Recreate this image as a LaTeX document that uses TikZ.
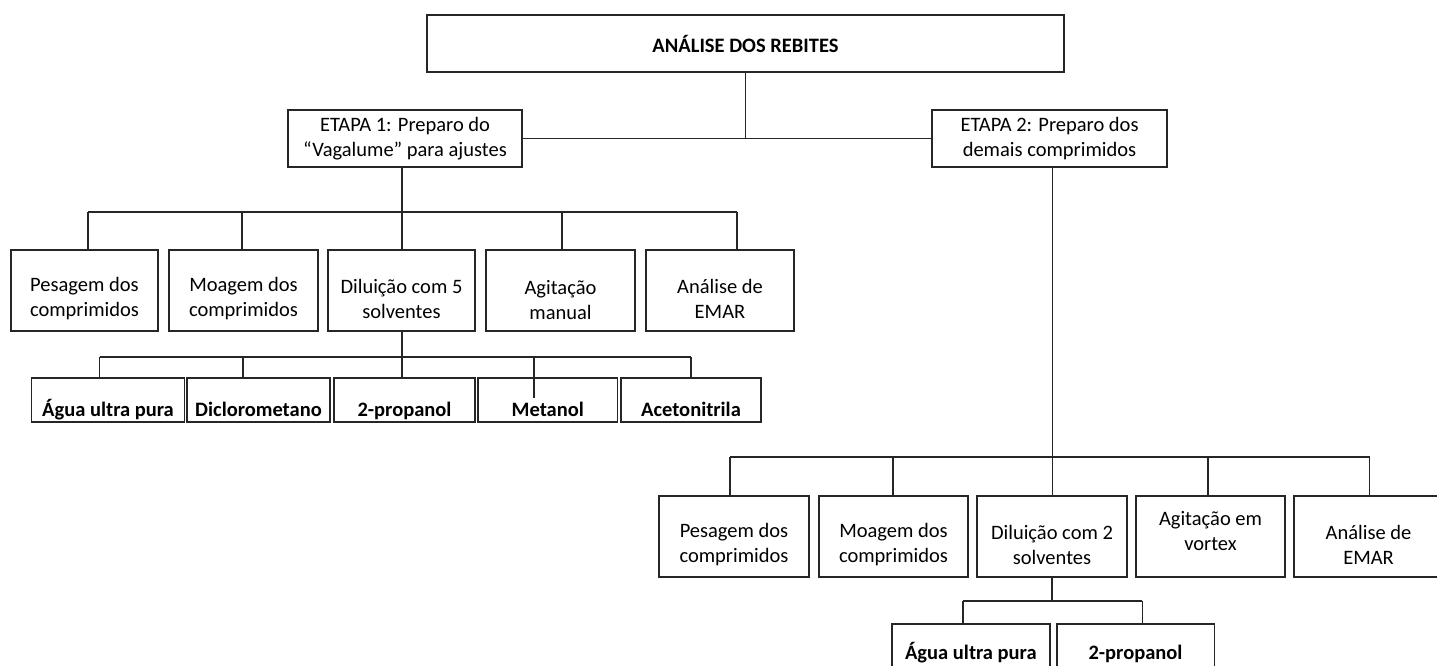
\documentclass[tikz,border=0pt]{standalone}
\usepackage{fontspec}
\setmainfont{Carlito}
\begin{document}
\begin{tikzpicture}[x=1pt,y=-1pt,
  box/.style={draw=black!85, line width=1.6pt, inner sep=0pt, fill=white},
  link/.style={draw=black!85, line width=1.6pt},
  txt/.style={align=center, inner sep=0pt, font=\fontsize{20.5}{25}\selectfont},
  btxt/.style={anchor=base, inner sep=0pt, font=\bfseries\fontsize{20.5}{25}\selectfont}]

\useasboundingbox (0,0) rectangle (1437,665);
\clip (0,0) rectangle (1437,665);

% bus junctions, left branch
\coordinate (la1) at (88,211.7);
\coordinate (la2) at (241.7,211.7);
\coordinate (la3) at (401.7,211.7);
\coordinate (la4) at (562,211.7);
\coordinate (la5) at (736.7,211.7);
\coordinate (lb1) at (99.5,356.7);
\coordinate (lb2) at (242.7,356.7);
\coordinate (lb3) at (401.7,356.7);
\coordinate (lb4) at (534,356.7);
\coordinate (lb5) at (691,356.7);
% bus junctions, right branch
\coordinate (ra1) at (730,456.7);
\coordinate (ra2) at (893,456.7);
\coordinate (ra3) at (1052.5,456.7);
\coordinate (ra4) at (1208,456.7);
\coordinate (ra5) at (1369.5,456.7);
\coordinate (rb1) at (962.7,600.7);
\coordinate (rb2) at (1142.3,600.7);

% ---------- boxes ----------
\node[box, minimum width=637pt, minimum height=57pt] (top) at (745.5,43.5) {};
\node[box, minimum width=234pt, minimum height=57pt] (e1) at (405,138.5) {};
\node[box, minimum width=235pt, minimum height=57pt] (e2) at (1049.5,138.5) {};

\node[box, minimum width=147pt, minimum height=81pt] (L1) at (84.5,290.5) {};
\node[box, minimum width=149pt, minimum height=81pt] (L2) at (243.5,290.5) {};
\node[box, minimum width=147pt, minimum height=81pt] (L3) at (401.5,290.5) {};
\node[box, minimum width=149pt, minimum height=81pt] (L4) at (560.5,290.5) {};
\node[box, minimum width=148pt, minimum height=81pt] (L5) at (720,290.5) {};

\node[box, minimum width=153pt, minimum height=44pt] (S1) at (108,400) {};
\node[box, minimum width=143pt, minimum height=44pt] (S2) at (258.5,400) {};
\node[box, minimum width=141pt, minimum height=44pt] (S3) at (404.5,400) {};
\node[box, minimum width=139.5pt, minimum height=44pt] (S4) at (547.75,400) {};
\node[box, minimum width=140pt, minimum height=44pt] (S5) at (691,400) {};

\node[box, minimum width=150pt, minimum height=81pt] (R1) at (734,536.5) {};
\node[box, minimum width=149pt, minimum height=81pt] (R2) at (893.5,536.5) {};
\node[box, minimum width=150pt, minimum height=81pt] (R3) at (1052,536.5) {};
\node[box, minimum width=149pt, minimum height=81pt] (R4) at (1210.5,536.5) {};
\node[box, minimum width=149pt, minimum height=81pt] (R5) at (1368.5,536.5) {};

\node[box, minimum width=158.3pt, minimum height=54pt] (T1) at (970.85,651) {};
\node[box, minimum width=157.6pt, minimum height=54pt] (T2) at (1135.5,651) {};

% ---------- connectors ----------
\draw[link] (top.south) -- (top.south |- e1.east);
\draw[link] (e1.east) -- (e2.west);

% stage 1
\draw[link] (e1.south -| la3) -- (la3);
\draw[link] (la1) -- (la5);
\draw[link] (la1) -- (la1 |- L1.north);
\draw[link] (la2) -- (la2 |- L2.north);
\draw[link] (la3) -- (la3 |- L3.north);
\draw[link] (la4) -- (la4 |- L4.north);
\draw[link] (la5) -- (la5 |- L5.north);
\draw[link] (L3.south -| lb3) -- (lb3);
\draw[link] (lb1) -- (lb5);
\draw[link] (lb1) -- (lb1 |- S1.north);
\draw[link] (lb2) -- (lb2 |- S2.north);
\draw[link] (lb3) -- (lb3 |- S3.north);
\draw[link] (lb4) -- ([yshift=2pt]lb4 |- S4.center);
\draw[link] (lb5) -- (lb5 |- S5.north);

% stage 2
\draw[link] (e2.south -| ra3) -- (ra3);
\draw[link] (ra1) -- (ra5);
\draw[link] (ra1) -- (ra1 |- R1.north);
\draw[link] (ra2) -- (ra2 |- R2.north);
\draw[link] (ra3) -- (ra3 |- R3.north);
\draw[link] (ra4) -- (ra4 |- R4.north);
\draw[link] (ra5) -- (ra5 |- R5.north);
\draw[link] (R3.south) -- (R3.south |- rb1);
\draw[link] (rb1) -- (rb2);
\draw[link] (rb1) -- (rb1 |- T1.north);
\draw[link] (rb2) -- (rb2 |- T2.north);

% ---------- texts ----------
\node[txt, font=\bfseries\fontsize{20.5}{25}\selectfont] at (top.center) {ANÁLISE DOS REBITES};
\node[txt] at (e1.center) {ETAPA 1: Preparo do\\“Vagalume” para ajustes};
\node[txt] at (e2.center) {ETAPA 2: Preparo dos\\demais comprimidos};

\node[txt] at ([yshift=-8pt]L1.center) {Pesagem dos\\comprimidos};
\node[txt] at ([yshift=-8pt]L2.center) {Moagem dos\\comprimidos};
\node[txt] at ([yshift=-8pt]L3.center) {Diluição com 5\\solventes};
\node[txt] at ([yshift=-10pt]L4.center) {Agitação\\manual};
\node[txt] at ([yshift=-8pt]L5.center) {Análise de\\EMAR};

\node[btxt] at (S1.center |- 0,416) {Água ultra pura};
\node[btxt] at (S2.center |- 0,416) {Diclorometano};
\node[btxt] at (S3.center |- 0,416) {2-propanol};
\node[btxt] at (S4.center |- 0,416) {Metanol};
\node[btxt] at (S5.center |- 0,416) {Acetonitrila};

\node[txt] at ([yshift=-8pt]R1.center) {Pesagem dos\\comprimidos};
\node[txt] at ([yshift=-8pt]R2.center) {Moagem dos\\comprimidos};
\node[txt] at ([yshift=-8pt]R3.center) {Diluição com 2\\solventes};
\node[txt] at ([yshift=5pt]R4.center) {Agitação em\\vortex};
\node[txt] at ([yshift=-8pt]R5.center) {Análise de\\EMAR};

\node[btxt] at (T1.center |- 0,659) {Água ultra pura};
\node[btxt] at (T2.center |- 0,659) {2-propanol};
\end{tikzpicture}
\end{document}
